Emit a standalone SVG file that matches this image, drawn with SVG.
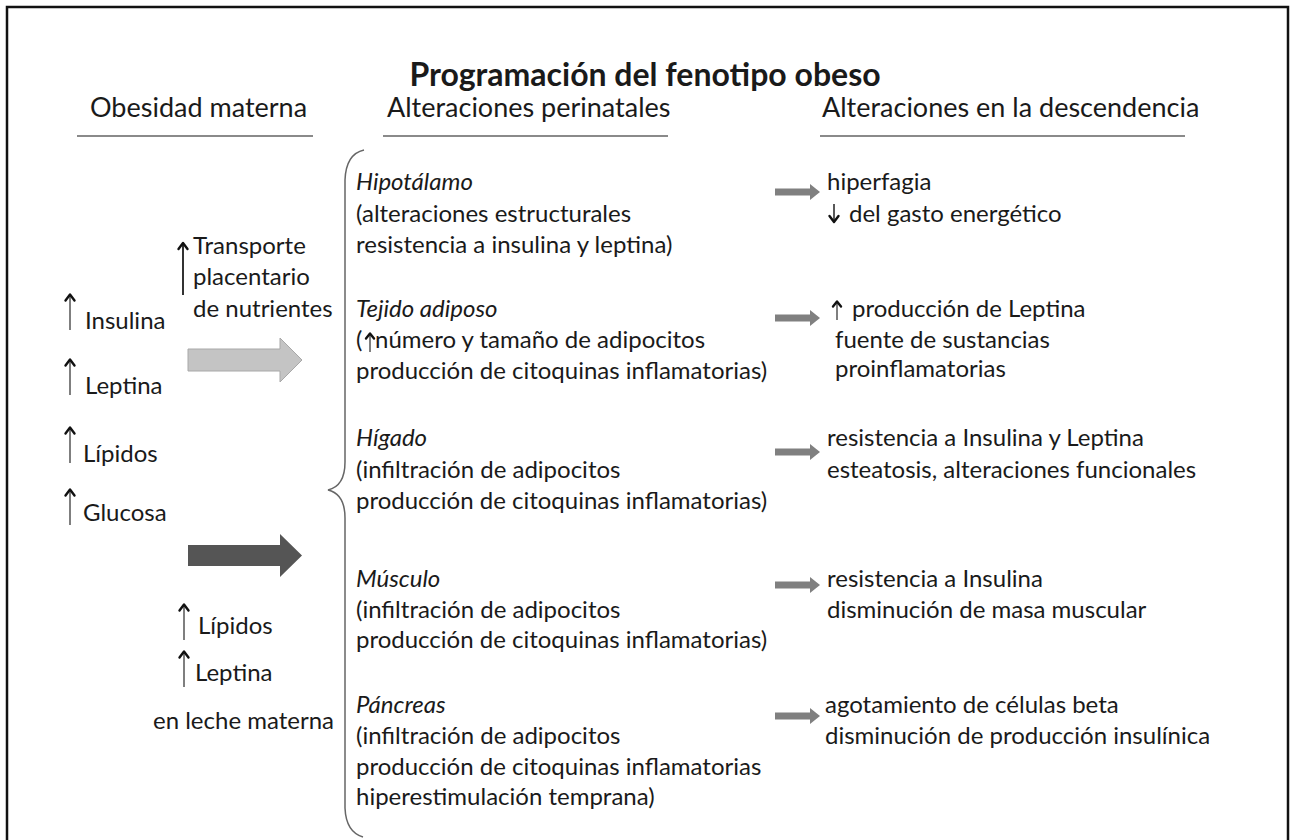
<svg xmlns="http://www.w3.org/2000/svg" xmlns:xlink="http://www.w3.org/1999/xlink" width="1293" height="840" viewBox="0 0 1293 840">
<style>
text{font-family:Lato,"Open Sans","Liberation Sans",sans-serif;fill:#1a1a1a;}
.t{font-size:32px;font-weight:bold;}
.h{font-size:27px;}
.b{font-size:24px;}
.i{font-style:italic;}
.ul{stroke:#8a8a8a;stroke-width:2;}
.ra{fill:#808080;}
.stem{stroke:#555;stroke-width:1.5;fill:none;}
.head{stroke:#111;stroke-width:2.4;fill:none;stroke-linecap:round;stroke-linejoin:round;}
</style>
<defs>
<g id="up">
<line class="stem" x1="0" y1="1" x2="0" y2="36"/>
<path class="head" d="M-4.5,6.5 L0,0.5 L4.5,6.5"/>
</g>
<g id="upS">
<line class="stem" x1="0" y1="1" x2="0" y2="19"/>
<path class="head" d="M-4,5.5 L0,0.5 L4,5.5"/>
</g>
<path id="rarrow" class="ra" d="M0,-3.5 L35,-3.5 L35,-8 L45,0 L35,8 L35,3.5 L0,3.5 Z"/>
</defs>
<rect x="7" y="7" width="1281" height="860" fill="#fff" stroke="#111" stroke-width="2.5"/>

<g id="title"><text class="t" x="645" y="86" text-anchor="middle">Programación del fenotipo obeso</text></g>

<g id="headers">
<text class="h" x="90" y="117">Obesidad materna</text>
<text class="h" x="387" y="117">Alteraciones perinatales</text>
<text class="h" x="822" y="117">Alteraciones en la descendencia</text>
<line class="ul" x1="77" y1="136" x2="313" y2="136"/>
<line class="ul" x1="383" y1="136" x2="668" y2="136"/>
<line class="ul" x1="820" y1="136" x2="1185" y2="136"/>
</g>

<g id="maternal">
<use xlink:href="#up" x="70" y="294"/><text class="b" x="85" y="329">Insulina</text>
<use xlink:href="#up" x="70" y="359"/><text class="b" x="85" y="394">Leptina</text>
<use xlink:href="#up" x="70" y="427"/><text class="b" x="83" y="462">Lípidos</text>
<use xlink:href="#up" x="70" y="489"/><text class="b" x="83" y="521">Glucosa</text>
</g>

<g id="placental">
<line x1="183" y1="244" x2="183" y2="295" stroke="#333" stroke-width="2"/>
<path class="head" d="M178.5,249 L183,243 L187.5,249"/>
<text class="b" x="193" y="254">Transporte</text>
<text class="b" x="193" y="285">placentario</text>
<text class="b" x="193" y="317">de nutrientes</text>
</g>

<g id="milk">
<use xlink:href="#up" x="184" y="604"/><text class="b" x="198" y="634">Lípidos</text>
<use xlink:href="#up" x="184" y="651"/><text class="b" x="195" y="681">Leptina</text>
<text class="b" x="153" y="729">en leche materna</text>
</g>

<g id="perinatal">
<text class="b i" x="356" y="190">Hipotálamo</text>
<text class="b" x="356" y="222">(alteraciones estructurales</text>
<text class="b" x="356" y="253">resistencia a insulina y leptina)</text>
<text class="b i" x="356" y="317">Tejido adiposo</text>
<text class="b" x="356" y="348">(</text>
<use xlink:href="#upS" x="370" y="333"/>
<text class="b" x="375" y="348">número y tamaño de adipocitos</text>
<text class="b" x="356" y="379">producción de citoquinas inflamatorias)</text>
<text class="b i" x="356" y="446">Hígado</text>
<text class="b" x="356" y="478">(infiltración de adipocitos</text>
<text class="b" x="356" y="509">producción de citoquinas inflamatorias)</text>
<text class="b i" x="356" y="587">Músculo</text>
<text class="b" x="356" y="618">(infiltración de adipocitos</text>
<text class="b" x="356" y="648">producción de citoquinas inflamatorias)</text>
<text class="b i" x="356" y="713">Páncreas</text>
<text class="b" x="356" y="744">(infiltración de adipocitos</text>
<text class="b" x="356" y="775">producción de citoquinas inflamatorias</text>
<text class="b" x="356" y="805">hiperestimulación temprana)</text>
</g>

<g id="offspring">
<text class="b" x="827" y="190">hiperfagia</text>
<line class="stem" x1="834" y1="204" x2="834" y2="221" style="stroke:#222"/>
<path class="head" d="M829.5,216 L834,222 L838.5,216"/>
<text class="b" x="849" y="222">del gasto energético</text>
<use xlink:href="#upS" x="837" y="301"/>
<text class="b" x="852" y="317">producción de Leptina</text>
<text class="b" x="835" y="348">fuente de sustancias</text>
<text class="b" x="835" y="377">proinflamatorias</text>
<text class="b" x="827" y="446">resistencia a Insulina y Leptina</text>
<text class="b" x="827" y="478">esteatosis, alteraciones funcionales</text>
<text class="b" x="827" y="587">resistencia a Insulina</text>
<text class="b" x="827" y="618">disminución de masa muscular</text>
<text class="b" x="825" y="713">agotamiento de células beta</text>
<text class="b" x="825" y="744">disminución de producción insulínica</text>
</g>

<g id="connectors">
<path d="M188,349 L280,349 L280,338 L302,360 L280,382 L280,371 L188,371 Z" fill="#c4c4c4" stroke="#a8a8a8" stroke-width="1"/>
<path d="M188,545 L280,545 L280,534 L302,555.5 L280,577 L280,566 L188,566 Z" fill="#555"/>
<path d="M364,150 Q346,154 345,180 L345,462 Q345,486 328,490 Q345,494 345,518 L345,808 Q346,832 363,837" fill="none" stroke="#666" stroke-width="1.5"/>
<use xlink:href="#rarrow" x="775" y="192"/>
<use xlink:href="#rarrow" x="775" y="318"/>
<use xlink:href="#rarrow" x="775" y="452"/>
<use xlink:href="#rarrow" x="775" y="585"/>
<use xlink:href="#rarrow" x="775" y="716"/>
</g>
</svg>
